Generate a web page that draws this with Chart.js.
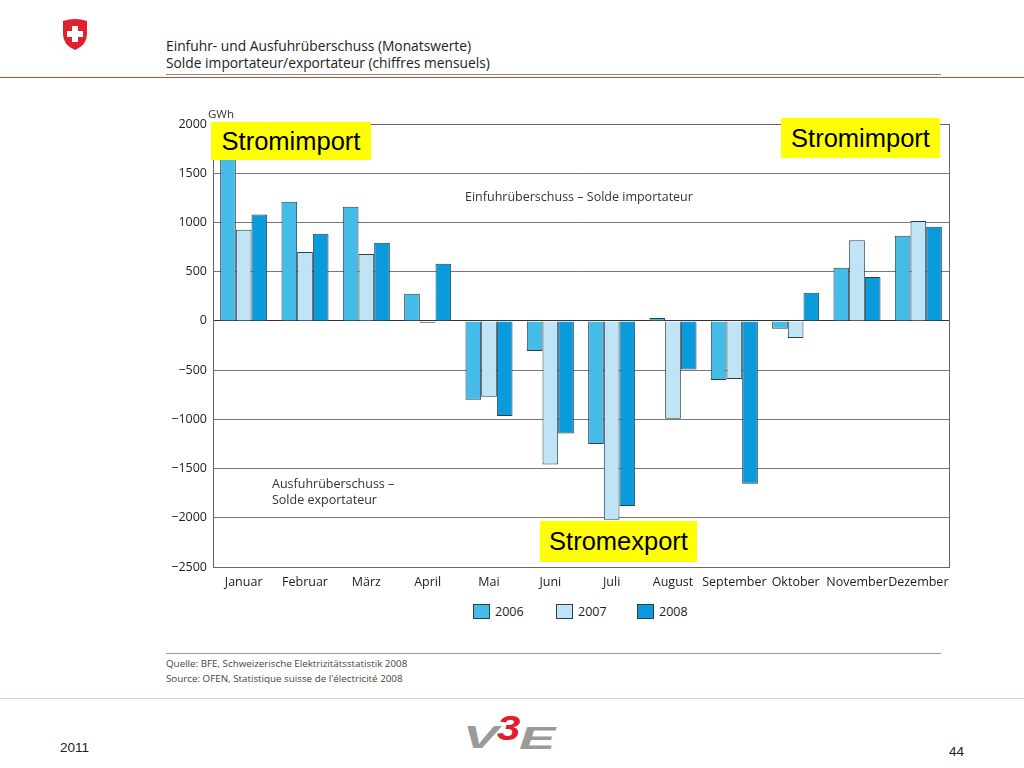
<!DOCTYPE html>
<html>
<head>
<meta charset="utf-8">
<script src="https://cdn.jsdelivr.net/npm/chart.js@4/dist/chart.umd.min.js"></script>
<style>
  html,body{margin:0;padding:0;background:#fff;}
  body{width:1024px;height:768px;position:relative;overflow:hidden;font-family:"Open Sans",sans-serif;}
  .abs{position:absolute;}
  .title{left:166px;font-size:13.8px;color:#222;white-space:nowrap;}
  .yellow{background:#ffff00;color:#000;font-family:"Liberation Sans",Arial,sans-serif;font-size:25.5px;display:flex;align-items:center;justify-content:center;}
  .note{font-size:12.5px;color:#333;line-height:16px;white-space:nowrap;}
  .src{left:166px;font-size:9.8px;color:#444;white-space:nowrap;}
  .foot{font-family:"Liberation Sans",Arial,sans-serif;font-size:13.5px;color:#222;}
  .leg{position:absolute;top:603px;height:16px;display:flex;align-items:center;font-size:12.5px;color:#222;white-space:nowrap;}
  .leg i{display:inline-block;width:15px;height:13px;border:1px solid #2b3f4a;margin-right:5px;}
  .logo{position:absolute;font-family:"Liberation Sans",Arial,sans-serif;font-weight:bold;font-style:italic;line-height:1;transform-origin:0 0;white-space:nowrap;}
</style>
</head>
<body>
<svg class="abs" style="left:61px;top:18px" width="28" height="33" viewBox="0 0 28 33">
  <path d="M2 3 Q14 -1 26 3 L26 16 Q26 27 14 32 Q2 27 2 16 Z" fill="#e0202a"/>
  <rect x="11" y="8" width="6" height="16" fill="#fff"/>
  <rect x="6" y="13" width="16" height="6" fill="#fff"/>
</svg>
<div class="abs title" style="top:36px">Einfuhr- und Ausfuhrüberschuss (Monatswerte)</div>
<div class="abs title" style="top:53px">Solde importateur/exportateur (chiffres mensuels)</div>
<div class="abs" style="left:166px;top:74px;width:775px;height:1px;background:#888"></div>
<div class="abs" style="left:0;top:77px;width:1024px;height:1px;background:#c0502a"></div>

<div class="abs" style="left:160px;top:105px;width:800px;height:488px;">
  <canvas id="c"></canvas>
</div>

<div class="abs note" style="left:465px;top:189px">Einfuhrüberschuss – Solde importateur</div>
<div class="abs note" style="left:272px;top:476px">Ausfuhrüberschuss –<br>Solde exportateur</div>

<div class="abs yellow" style="left:211px;top:122px;width:160px;height:38px">Stromimport</div>
<div class="abs yellow" style="left:781px;top:118px;width:159px;height:40px">Stromimport</div>
<div class="abs yellow" style="left:540px;top:521px;width:157px;height:41px">Stromexport</div>

<div id="legend"></div>

<div class="abs" style="left:166px;top:653px;width:775px;height:1px;background:#999"></div>
<div class="abs src" style="top:657px">Quelle: BFE, Schweizerische Elektrizitätsstatistik 2008</div>
<div class="abs src" style="top:672px">Source: OFEN, Statistique suisse de l'électricité 2008</div>
<div class="abs" style="left:0;top:698px;width:1024px;height:1px;background:#e8c8c8"></div>

<div class="abs foot" style="left:60px;top:740px">2011</div>
<div class="abs foot" style="left:949px;top:744px">44</div>
<div class="logo" style="left:463px;top:721px;font-size:32px;color:#9a9a9a;transform:scaleX(1.65)">V</div>
<div class="logo" style="left:497px;top:710px;font-size:35px;color:#e0202a;transform:scaleX(1.2)">3</div>
<div class="logo" style="left:519px;top:722px;font-size:32px;color:#9a9a9a;transform:scaleX(1.7)">E</div>

<script>
const categories = ["Januar","Februar","März","April","Mai","Juni","Juli","August","September","Oktober","November","Dezember"];
const seriesNames = ["2006","2007","2008"];
const values2006 = [1750, 1210, 1160, 275, -800, -305, -1250, 30, -600, -80, 540, 865];
const values2007 = [925, 700, 680, -20, -770, -1460, -2020, -995, -590, -175, 820, 1015];
const values2008 = [1080, 885, 795, 580, -965, -1145, -1880, -495, -1655, 285, 445, 955];
const yTicks = [2000, 1500, 1000, 500, 0, -500, -1000, -1500, -2000, -2500];
const colors = ['#45bbe8', '#bfe4f6', '#0a9bdc'];

const frame = {
  id: 'frame',
  beforeDatasetsDraw(chart) {
    const a = chart.chartArea, ctx = chart.ctx;
    ctx.save();
    ctx.strokeStyle = '#666';
    ctx.lineWidth = 1;
    ctx.strokeRect(Math.round(a.left)+0.5, Math.round(a.top)+0.5, Math.round(a.right-a.left), Math.round(a.bottom-a.top));
    ctx.restore();
  },
  afterDraw(chart) {
    const ctx = chart.ctx, y = chart.scales.y;
    ctx.save();
    ctx.font = '11.5px "Open Sans"';
    ctx.fillStyle = '#333';
    ctx.textAlign = 'left';
    ctx.textBaseline = 'bottom';
    ctx.fillText('GWh', chart.chartArea.left - 5, y.getPixelForValue(yTicks[0]) - 4);
    ctx.restore();
  }
};

const chart = new Chart(document.getElementById('c'), {
  type: 'bar',
  data: {
    labels: categories,
    datasets: [values2006, values2007, values2008].map((d, i) => ({
      label: seriesNames[i], data: d, backgroundColor: colors[i], borderColor: '#2b3f4a', borderWidth: 1
    }))
  },
  options: {
    responsive: true,
    maintainAspectRatio: false,
    animation: false,
    layout: {padding: {top: 19, right: 11, left: 0, bottom: 0}},
    datasets: {bar: {barPercentage: 1, categoryPercentage: 0.767}},
    plugins: {
      legend: {display: false},
      tooltip: {enabled: false}
    },
    scales: {
      x: {
        grid: {display: false},
        border: {display: false},
        afterFit(s) { s.height = 26; },
        ticks: {color: '#222', font: {family: 'Open Sans', size: 12.5}, maxRotation: 0, autoSkip: false, padding: 0}
      },
      y: {
        min: yTicks[yTicks.length-1],
        max: yTicks[0],
        afterBuildTicks(s) { s.ticks = yTicks.map(v => ({value: v})); },
        afterFit(s) { s.width = 53; },
        border: {display: true, color: '#555'},
        grid: {
          color: ctx => ctx.tick && ctx.tick.value === 0 ? '#333' : '#777',
          drawTicks: false
        },
        ticks: {
          color: '#222',
          padding: 6,
          font: {family: 'Open Sans', size: 12.5},
          callback: v => String(v).replace('-', '\u2212')
        }
      }
    }
  },
  plugins: [frame]
});

// HTML legend built from the chart's datasets
const legendLeft = [473, 556, 637];
const lg = document.getElementById('legend');
chart.data.datasets.forEach((ds, i) => {
  const el = document.createElement('div');
  el.className = 'leg';
  el.style.left = legendLeft[i] + 'px';
  el.innerHTML = '<i style="background:' + ds.backgroundColor + '"></i>' + ds.label;
  lg.appendChild(el);
});
</script>
</body>
</html>
